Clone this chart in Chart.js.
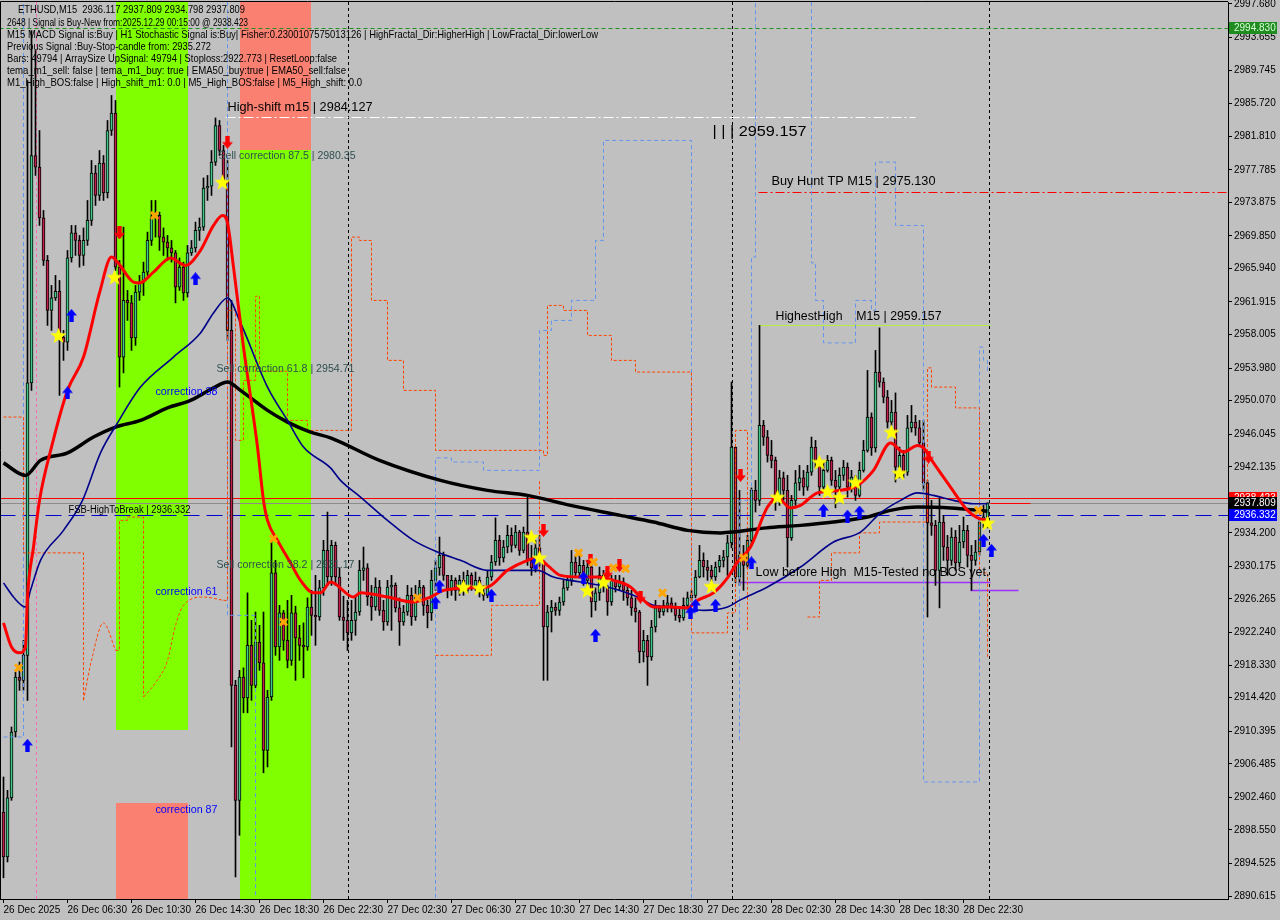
<!DOCTYPE html>
<html>
<head>
<meta charset="utf-8">
<title>ETHUSD,M15</title>
<script src="https://cdn.jsdelivr.net/npm/chart.js"></script>
<style>
  html, body { margin: 0; padding: 0; background: #c0c0c0; }
  #wrap { width: 1280px; height: 920px; }
</style>
</head>
<body>
<div id="wrap"><canvas id="chart" width="1280" height="920"></canvas></div>
<script>
// time axis labels, one every 16 bars (4 hours of M15)
const timeLabels = ['26 Dec 2025', '26 Dec 06:30', '26 Dec 10:30', '26 Dec 14:30', '26 Dec 18:30', '26 Dec 22:30',
  '27 Dec 02:30', '27 Dec 06:30', '27 Dec 10:30', '27 Dec 14:30', '27 Dec 18:30', '27 Dec 22:30',
  '28 Dec 02:30', '28 Dec 14:30', '28 Dec 18:30', '28 Dec 22:30'];
const barsPerLabel = 16;

const priceTicks = [2997.680, 2993.655, 2989.745, 2985.720, 2981.810, 2977.785, 2973.875, 2969.850, 2965.940,
  2961.915, 2958.005, 2953.980, 2950.070, 2946.045, 2942.135, 2938.110, 2934.200, 2930.175, 2926.265, 2922.240,
  2918.330, 2914.420, 2910.395, 2906.485, 2902.460, 2898.550, 2894.525, 2890.615];

// candles (open of each bar = previous close)
const firstOpen = 2900.7;
const closes = [
  2895.3, 2902.4, 2910.3, 2916.9, 2916.5, 2919.5, 2952.2, 2979.5, 2978.1, 2972.0,
  2966.9, 2960.9, 2962.4, 2963.2, 2957.7, 2957.1, 2967.2, 2970.2, 2969.3, 2967.5,
  2969.3, 2971.7, 2977.4, 2974.7, 2978.6, 2975.0, 2982.5, 2984.6, 2966.1, 2955.3,
  2962.1, 2961.8, 2957.6, 2963.1, 2964.3, 2965.5, 2969.3, 2972.1, 2972.3, 2969.7,
  2969.1, 2968.4, 2967.8, 2963.7, 2966.1, 2963.0, 2967.8, 2968.4, 2970.5, 2970.9,
  2975.6, 2975.8, 2978.7, 2983.1, 2980.1, 2976.5, 2958.5, 2915.9, 2902.1, 2916.9,
  2914.4, 2920.7, 2915.9, 2921.1, 2918.6, 2908.1, 2914.5, 2929.4, 2920.5, 2924.6,
  2921.3, 2918.9, 2924.6, 2921.6, 2920.7, 2920.5, 2925.3, 2924.3, 2924.1, 2927.6,
  2932.1, 2928.9, 2932.7, 2928.9, 2924.1, 2923.7, 2922.2, 2923.7, 2924.7, 2929.7,
  2930.0, 2926.5, 2925.3, 2927.7, 2924.9, 2923.5, 2927.7, 2927.9, 2925.2, 2923.5,
  2924.7, 2926.7, 2924.1, 2926.7, 2927.7, 2925.5, 2924.6, 2928.5, 2930.0, 2931.5,
  2929.1, 2927.3, 2928.5, 2927.3, 2928.5, 2927.3, 2929.1, 2927.7, 2928.5, 2927.0,
  2926.7, 2928.9, 2930.7, 2933.3, 2931.2, 2932.5, 2933.9, 2932.7, 2934.3, 2932.1,
  2934.3, 2930.9, 2930.0, 2932.4, 2930.7, 2922.9, 2924.7, 2925.3, 2924.9, 2925.9,
  2927.6, 2928.5, 2930.7, 2929.4, 2930.3, 2928.5, 2930.1, 2925.9, 2927.0, 2929.1,
  2927.7, 2925.9, 2928.5, 2927.7, 2928.3, 2927.3, 2926.4, 2925.2, 2924.7, 2919.9,
  2921.3, 2919.3, 2922.9, 2925.2, 2924.7, 2925.5, 2925.8, 2925.2, 2924.3, 2924.0,
  2925.5, 2926.4, 2926.7, 2928.9, 2930.9, 2930.1, 2929.7, 2928.9, 2930.1, 2930.9,
  2931.3, 2933.0, 2944.5, 2928.9, 2931.5, 2930.3, 2933.3, 2939.3, 2938.1, 2947.1,
  2945.7, 2943.5, 2942.9, 2938.1, 2940.8, 2939.3, 2933.6, 2938.1, 2940.2, 2940.8,
  2939.7, 2941.5, 2944.5, 2942.9, 2939.7, 2941.7, 2942.9, 2940.5, 2939.7, 2941.1,
  2942.1, 2939.7, 2940.9, 2938.7, 2941.7, 2944.1, 2948.1, 2944.4, 2953.5, 2952.3,
  2950.5, 2947.5, 2948.7, 2942.1, 2943.5, 2941.5, 2946.8, 2947.5, 2946.8, 2945.0,
  2940.2, 2935.4, 2935.1, 2929.7, 2935.5, 2932.5, 2930.9, 2933.7, 2930.6, 2933.1,
  2934.5, 2931.5, 2930.9, 2931.9, 2935.5, 2936.117, 2937.809];
const highs = [
  2904.9, 2903.3, 2910.9, 2917.5, 2918.7, 2921.3, 2988.5, 2994.5, 2992.1, 2982.5,
  2972.9, 2967.5, 2963.9, 2965.1, 2964.5, 2958.5, 2968.1, 2971.1, 2971.1, 2969.9,
  2970.8, 2974.1, 2978.9, 2978.3, 2980.1, 2979.5, 2983.7, 2986.7, 2986.1, 2966.9,
  2970.9, 2963.3, 2962.7, 2963.9, 2965.1, 2966.7, 2970.3, 2974.1, 2974.1, 2972.7,
  2970.8, 2969.9, 2969.3, 2968.1, 2967.2, 2966.7, 2968.7, 2969.3, 2971.5, 2972.0,
  2976.8, 2977.1, 2980.1, 2984.0, 2983.7, 2980.7, 2978.9, 2962.1, 2916.5, 2917.7,
  2918.0, 2927.0, 2923.7, 2924.7, 2923.1, 2924.7, 2915.3, 2933.3, 2930.9, 2925.5,
  2924.9, 2926.1, 2926.7, 2925.4, 2923.1, 2923.4, 2926.4, 2927.3, 2929.1, 2928.5,
  2933.3, 2936.7, 2933.3, 2933.1, 2930.0, 2926.6, 2926.1, 2926.1, 2926.7, 2930.9,
  2932.5, 2930.5, 2927.9, 2928.8, 2928.5, 2926.1, 2928.5, 2929.1, 2928.2, 2926.4,
  2925.5, 2927.9, 2927.6, 2927.9, 2928.5, 2927.9, 2926.1, 2929.7, 2930.9, 2933.7,
  2931.9, 2929.1, 2929.1, 2928.8, 2929.1, 2929.5, 2929.7, 2929.4, 2929.5, 2928.9,
  2927.9, 2929.7, 2931.5, 2936.0, 2933.9, 2933.3, 2935.1, 2934.8, 2935.1, 2934.5,
  2934.9, 2938.5, 2932.7, 2933.3, 2933.9, 2930.9, 2925.5, 2926.1, 2925.8, 2926.5,
  2928.5, 2929.1, 2932.1, 2931.5, 2931.9, 2930.9, 2930.9, 2930.3, 2927.6, 2930.1,
  2929.7, 2927.9, 2929.1, 2929.1, 2929.1, 2928.8, 2927.9, 2927.3, 2926.4, 2924.9,
  2922.5, 2921.9, 2923.7, 2926.1, 2925.5, 2926.1, 2926.7, 2926.4, 2925.8, 2925.2,
  2926.4, 2927.1, 2927.3, 2929.7, 2932.7, 2931.8, 2930.9, 2930.3, 2930.7, 2931.5,
  2932.1, 2933.9, 2952.3, 2944.5, 2939.3, 2932.7, 2933.9, 2939.6, 2940.5, 2959.1,
  2947.7, 2946.5, 2945.3, 2943.3, 2941.7, 2941.5, 2941.1, 2938.7, 2941.7, 2942.3,
  2941.7, 2942.3, 2945.7, 2945.3, 2943.2, 2942.7, 2943.5, 2943.3, 2941.7, 2942.0,
  2942.9, 2942.6, 2941.7, 2941.1, 2942.7, 2945.3, 2953.7, 2948.6, 2956.1, 2958.8,
  2952.8, 2951.3, 2950.1, 2951.0, 2944.5, 2944.1, 2948.3, 2949.5, 2948.3, 2947.7,
  2947.7, 2940.5, 2938.1, 2935.7, 2938.4, 2936.3, 2933.9, 2934.8, 2934.5, 2935.1,
  2936.1, 2935.1, 2932.7, 2933.3, 2936.0, 2937.5, 2937.809];
const lows = [
  2892.8, 2894.7, 2902.1, 2909.7, 2915.3, 2915.3, 2914.1, 2951.3, 2977.1, 2971.1,
  2966.3, 2959.1, 2958.5, 2962.1, 2950.7, 2954.9, 2956.1, 2966.7, 2967.5, 2966.1,
  2966.3, 2968.7, 2971.1, 2973.5, 2974.1, 2974.1, 2974.4, 2981.9, 2965.7, 2951.7,
  2953.4, 2959.7, 2956.1, 2956.7, 2962.1, 2962.7, 2965.1, 2968.7, 2969.7, 2968.1,
  2967.5, 2966.9, 2966.7, 2961.8, 2963.3, 2962.1, 2962.5, 2967.5, 2967.9, 2969.3,
  2970.5, 2974.1, 2974.7, 2978.3, 2979.5, 2975.9, 2957.3, 2908.5, 2892.9, 2897.9,
  2912.6, 2912.6, 2914.1, 2915.6, 2917.7, 2905.4, 2906.1, 2914.1, 2919.5, 2918.9,
  2920.1, 2918.0, 2918.3, 2916.5, 2918.9, 2916.8, 2920.1, 2921.9, 2920.7, 2923.7,
  2926.7, 2927.9, 2927.9, 2927.9, 2923.7, 2921.3, 2920.1, 2921.3, 2921.9, 2924.3,
  2928.5, 2925.5, 2923.7, 2924.9, 2924.3, 2922.5, 2923.1, 2922.5, 2924.7, 2920.7,
  2923.1, 2924.3, 2923.1, 2923.7, 2926.1, 2924.3, 2922.8, 2923.7, 2927.3, 2929.1,
  2928.5, 2926.4, 2926.7, 2926.1, 2926.7, 2926.7, 2927.0, 2927.3, 2927.3, 2926.5,
  2926.1, 2926.4, 2928.5, 2930.3, 2930.3, 2930.7, 2931.8, 2931.9, 2932.4, 2931.5,
  2931.8, 2930.3, 2929.1, 2929.5, 2930.1, 2916.5, 2916.5, 2922.3, 2924.3, 2924.3,
  2925.5, 2927.3, 2927.9, 2928.8, 2928.8, 2927.9, 2927.9, 2924.1, 2924.9, 2926.1,
  2927.1, 2924.3, 2925.5, 2927.1, 2927.3, 2926.1, 2925.5, 2924.3, 2923.5, 2918.6,
  2918.7, 2915.9, 2918.9, 2922.3, 2924.0, 2924.3, 2924.7, 2924.7, 2923.7, 2923.5,
  2923.7, 2925.2, 2925.9, 2926.4, 2928.8, 2928.9, 2928.5, 2927.3, 2928.5, 2929.5,
  2930.1, 2929.1, 2932.4, 2928.2, 2927.9, 2927.3, 2930.0, 2932.7, 2936.7, 2937.5,
  2944.7, 2942.7, 2942.0, 2936.9, 2937.5, 2938.1, 2930.1, 2933.3, 2937.5, 2939.3,
  2938.7, 2939.3, 2941.1, 2942.0, 2938.7, 2939.1, 2941.5, 2939.9, 2937.2, 2938.7,
  2940.5, 2938.5, 2939.1, 2938.1, 2938.5, 2941.5, 2943.9, 2943.5, 2943.9, 2951.7,
  2949.8, 2946.8, 2947.1, 2940.3, 2940.8, 2940.8, 2941.1, 2946.3, 2945.9, 2944.7,
  2939.3, 2924.1, 2933.9, 2927.9, 2925.2, 2930.9, 2929.1, 2930.3, 2929.7, 2930.1,
  2932.4, 2930.1, 2927.3, 2930.3, 2931.5, 2934.8, 2934.798];

// moving averages (bar index, value)
const redBars = [0, 2, 4, 5.5, 6, 7.5, 9, 12, 16, 20, 24, 27, 28.5, 32.5, 34, 37.5, 41.75, 45.5, 49.25, 52.5,
  54.75, 56, 57.5, 60, 63.5, 65, 66, 68.5, 71.75, 74.25, 77.5, 79.25, 81.75, 87.5, 89.25, 96, 102.5, 106.75, 110, 116.75,
  121, 126, 131, 133.5, 136, 139.25, 144.25, 148.5, 152.5, 156.75, 159.25, 162.5, 166.75, 171, 173.5, 177.5, 181, 183.5, 186.75, 191,
  193.5, 196.75, 199.25, 203.5, 209.25, 213.5, 217.5, 221.75, 225, 228.5, 230, 232.5, 236.75, 241, 243.5, 246];
const redVals = [2923.4, 2920.5, 2919.8, 2920.5, 2926.5, 2932.5, 2938.1, 2944.5, 2951.3, 2955.3,
  2963.0, 2967.3, 2966.7, 2964.3, 2964.2, 2965.5, 2967.2, 2966.3, 2968.1, 2971.1,
  2972.3, 2971.4, 2966.1, 2956.5, 2944.5, 2938.1, 2935.7, 2933.3, 2930.6, 2928.5,
  2927.0, 2927.0, 2928.3, 2926.5, 2927.0, 2926.5, 2925.9, 2926.5, 2927.3, 2927.6,
  2927.7, 2929.7, 2930.9, 2931.2, 2930.3, 2929.1, 2928.9, 2928.9, 2928.5, 2927.7,
  2926.5, 2925.3, 2925.3, 2925.2, 2926.1, 2927.0, 2928.8, 2930.7, 2932.5, 2937.3,
  2938.4, 2937.2, 2937.5, 2939.0, 2939.3, 2939.9, 2941.7, 2945.0, 2943.9, 2944.7,
  2944.4, 2942.6, 2939.7, 2936.9, 2936.0, 2935.7];
const navyBars = [0, 2.5, 5.5, 6.75, 9.25, 15, 19.75, 24.25, 28.5, 34.25, 42.5, 49.25, 52.5, 56, 59.25, 66, 71, 75, 81.75, 84.25,
  89.25, 96, 102.5, 108.5, 114.25, 121, 133.5, 137.5, 144.25, 151, 158.5, 162.5, 169.25, 175, 181, 184, 191, 199.25, 207.5, 214.25,
  219.25, 224.25, 228.5, 232.5, 237.5, 242.5, 246];
const navyVals = [2928.2, 2926.5, 2925.3, 2927.3, 2930.9, 2934.5, 2938.1, 2943.8, 2947.4, 2951.7,
  2955.3, 2958.2, 2960.6, 2962.4, 2959.4, 2951.7, 2947.7, 2944.5, 2942.0, 2940.5,
  2938.5, 2935.7, 2933.3, 2931.9, 2930.9, 2929.7, 2929.7, 2928.9, 2928.3, 2927.7,
  2926.5, 2925.5, 2925.2, 2924.9, 2925.3, 2926.1, 2927.7, 2930.1, 2933.1, 2934.3,
  2936.6, 2938.1, 2939.0, 2938.7, 2938.1, 2937.7, 2937.7];
const blackBars = [0, 5.5, 9.25, 16, 22.5, 28, 34.25, 41, 46.75, 52.5, 56, 59.25, 66, 71, 76.75, 81.75, 94, 109.25, 121, 131,
  141.75, 154.25, 162.5, 171, 179.25, 190.75, 199.25, 207.5, 216, 221.75, 228.5, 236.75, 246];
const blackVals = [2942.6, 2941.1, 2942.9, 2943.8, 2945.7, 2946.9, 2947.7, 2949.2, 2950.1, 2951.6,
  2952.3, 2951.3, 2948.9, 2947.5, 2946.3, 2945.6, 2942.9, 2940.5, 2939.3, 2938.7,
  2937.5, 2936.3, 2935.5, 2934.5, 2934.2, 2934.8, 2935.1, 2935.5, 2936.1, 2936.9,
  2937.3, 2937.2, 2936.8];

// dashed envelope lines, stepped parts (null = gap)
const orangeBars = [0, 5, 5, 20, 20, 20, 28, 29, 31, 34, 35, 35, 55, 56, 58, 60, 63, 64, 66, 71,
  76, 86, 87, 89, 92, 96, 100, 108, 135, 136, 140, 146, 152, 158, 172, 172, 178, 181, 183, 186,
  186, 190, 201, 204, 207, 214, 219, 231, 231, 232, 237, 238, 244, 244, 246];
const orangeVals = [2948.1, 2948.1, 2931.8, 2931.8, 2914.1, null, 2920.1, 2935.7, 2936.1, 2936.1,
  2914.5, null, 2926.1, 2960.9, 2945.3, 2952.5, 2962.6, 2953.6, 2953.6, 2947.7,
  2946.5, 2946.5, 2969.7, 2969.3, 2962.1, 2954.9, 2951.3, 2944.1, 2943.5, 2961.5,
  2960.9, 2957.9, 2954.9, 2953.5, 2953.1, 2922.2, 2922.2, 2924.6, 2946.5, 2946.5,
  2922.5, null, 2924.1, 2928.5, 2931.8, 2934.2, 2935.5, 2935.5, 2954.0, 2951.7,
  2951.7, 2949.2, 2949.2, 2929.4, 2919.3];
// dashed envelope lines, curved parts
const orangeCurveBars = [20, 22, 25, 28, 30, 35, 38, 41, 43, 45, 50, 55];
const orangeCurveVals = [2914.1, 2918.9, 2923.4, 2920.1, null, 2914.5, 2916.2, 2918.9, 2923.1, 2925.5, 2926.5, 2926.1];
const orange2Bars = [108, 116, 122, 134, 134];
const orange2Vals = [2919.5, 2919.5, 2925.5, 2925.5, 2940.5];
const blueBars = [0, 5, 5, 20, 56, 56, 63, 63, 80, 108, 108, 112, 120, 134, 134, 137, 142, 148, 150, 172,
  172, 178, 184, 184, 187, 188, 188, 195, 202, 202, 203, 205, 213, 213, 217, 218, 222, 223, 230, 230,
  243, 244, 245, 246];
const blueVals = [2909.7, 2909.7, 2997.9, null, 2997.9, 2924.3, 2924.3, 2890.4, null, 2890.4,
  2943.2, 2942.7, 2941.7, 2941.7, 2958.5, 2959.7, 2962.1, 2969.3, 2981.3, 2981.3,
  2890.4, null, 2909.3, 2938.1, 2967.3, 2971.4, 2997.9, null, 2997.9, 2966.6,
  2962.1, 2957.0, 2957.0, 2962.1, 2960.9, 2978.7, 2978.7, 2971.1, 2971.1, 2904.3,
  2904.3, 2956.5, 2954.9, 2953.4];

// signal markers
const starBars = [13.75, 27.75, 54.75, 115, 119, 132, 134, 146, 150, 177, 193.5, 204, 206, 209, 213, 222, 224, 246];
const starVals = [2957.9, 2964.9, 2976.3, 2927.7, 2927.6, 2933.7, 2931.2, 2927.3, 2928.3, 2927.8, 2938.5, 2942.7, 2939.2, 2938.5, 2940.3, 2946.3, 2941.4, 2935.4];
const crossBars = [3.75, 37.75, 67.5, 70, 103.5, 143.75, 147.5, 152.5, 155.5, 164.75, 185, 243.75];
const crossVals = [2918.0, 2972.3, 2933.5, 2923.5, 2926.4, 2931.8, 2930.7, 2930.0, 2929.9, 2927.0, 2931.2, 2936.9];
const upBars = [6, 16, 17, 48, 108, 109, 122, 133, 145, 148, 171.75, 173, 178, 187, 205, 211, 214, 245, 247];
const upVals = [2908.7, 2951.0, 2960.3, 2964.7, 2925.8, 2927.8, 2926.7, 2930.6, 2928.8, 2921.9, 2924.6, 2925.5, 2925.5, 2930.6, 2936.9, 2936.2, 2936.7, 2933.3, 2932.1];
const downBars = [29, 56, 135, 146.75, 151, 154, 159.25, 184.25, 231.25];
const downVals = [2970.2, 2981.1, 2934.5, 2930.9, 2929.4, 2930.3, 2926.5, 2941.1, 2943.3];

// correction zones
const zoneFrom = [28, 28, 59, 59];
const zoneTo = [46, 46, 76.75, 76.75];
const zoneTop = [2997.92, 2901.8, 2997.92, 2980.1];
const zoneBottom = [2910.5, 2890.25, 2980.1, 2890.25];
const zoneKind = ['buy', 'sell', 'sell', 'buy'];

// horizontal levels
const levelPrice = [2994.830, 2984.127, 2975.130, 2959.157, 2938.423, 2937.809, 2936.332, 2928.3, 2927.3, 2937.8];
const levelFrom = [-1, 55.5, 188.75, 188.75, -1, -1, -1, 184.25, 241.75, 246.75];
const levelTo = [307, 228, 307, 246.75, 307, 307, 307, 246.75, 253.75, 256.75];
const levelKind = ['signal', 'shift', 'tp', 'hh', 'red', 'bid', 'fsb', 'low', 'low', 'red'];

const vlineBars = [86, 182, 246.25];
const pinkBar = 8;

const noteText = ['FSB-HighToBreak | 2936.332', 'High-shift m15 | 2984.127', '| | | 2959.157', 'Buy Hunt TP M15 | 2975.130',
  'HighestHigh    M15 | 2959.157', 'Low before High  M15-Tested no BOS yet.', 'Sell correction 87.5 | 2980.35',
  'Sell correction 61.8 | 2954.71', 'Sell correction 38.2 | 2931.17', 'correction 38', 'correction 61', 'correction 87'];
const noteBar = [16.25, 56, 177.25, 192, 193, 188, 53.75, 53.25, 53.25, 38, 38, 38];
const notePrice = [2936.9, 2985.2, 2982.3, 2976.3, 2960.2, 2929.4, 2979.4, 2953.9, 2930.3, 2951.1, 2927.1, 2900.9];

const headerLines = ['ETHUSD,M15  2936.117 2937.809 2934.798 2937.809',
  '2648 | Signal is Buy-New from:2025.12.29 00:15:00 @ 2938.423',
  'M15 MACD Signal is:Buy | H1 Stochastic Signal is:Buy| Fisher:0.2300107575013126 | HighFractal_Dir:HigherHigh | LowFractal_Dir:lowerLow',
  'Previous Signal :Buy-Stop-candle from: 2935.272',
  'Bars: 49794 | ArraySize UpSignal: 49794 | Stoploss:2922.773 | ResetLoop:false',
  'tema_m1_sell: false | tema_m1_buy: true | EMA50_buy:true | EMA50_sell:false',
  'M1_High_BOS:false | High_shift_m1: 0.0 | M5_High_BOS:false | M5_High_shift: 0.0'];

const tagPrices = [2994.830, 2938.423, 2937.809, 2936.332];

// ---- styles ----
const FONT = '"Liberation Sans", Arial, sans-serif';
const BULL = '#40c888', BEAR = '#c0204a';
const zoneColor = { buy: '#7fff00', sell: '#fa8072' };
const levelStyle = {
  signal: { color: '#1f8f1f', dash: [4, 3], width: 1 },
  shift: { color: '#ffffff', dash: [10, 3, 2, 3], width: 1 },
  tp: { color: '#ff0000', dash: [9, 3, 2, 3], width: 1 },
  hh: { color: '#b4f03c', dash: [], width: 1 },
  red: { color: '#ff0000', dash: [], width: 1 },
  bid: { color: '#8c8c8c', dash: [], width: 1 },
  fsb: { color: '#0000cd', dash: [16, 7], width: 1 },
  low: { color: '#9b30ff', dash: [], width: 1.5 }
};
const noteStyle = [
  [10, '#000', 122], [12.5, '#000', 145], [15, '#000', 94], [12, '#000', 164], [12, '#000', 166], [12, '#000', 234],
  [10.5, '#2f4f4f', 137], [10.5, '#2f4f4f', 138], [10.5, '#2f4f4f', 138], [10.5, '#0000ff', 62], [10.5, '#0000ff', 62], [10.5, '#0000ff', 62]
];
const headerPos = [[18, 10, 227], [7, 23, 241], [7, 35, 591], [7, 47, 204], [7, 59, 330], [7, 71, 339], [7, 83, 355]];
const tagStyle = [['#1e8c1e', '#d8ffd8'], ['#ff0000', '#ffffff'], ['#000000', '#ffffff'], ['#0000ff', '#ffffff']];

function makeStar(size, color) {
  const c = document.createElement('canvas');
  c.width = c.height = size;
  const g = c.getContext('2d');
  g.beginPath();
  for (let k = 0; k < 10; k++) {
    const r = k % 2 ? size * 0.21 : size * 0.5;
    const a = -Math.PI / 2 + k * Math.PI / 5;
    g.lineTo(size / 2 + r * Math.cos(a), size / 2 + r * Math.sin(a) + size * 0.04);
  }
  g.closePath();
  g.fillStyle = color;
  g.fill();
  return c;
}

function makeArrow(w, h, color, up) {
  const c = document.createElement('canvas');
  c.width = w; c.height = h;
  const g = c.getContext('2d');
  if (!up) { g.translate(0, h); g.scale(1, -1); }
  g.beginPath();
  g.moveTo(w / 2, 0); g.lineTo(w, h * 0.5); g.lineTo(w * 0.7, h * 0.5); g.lineTo(w * 0.7, h);
  g.lineTo(w * 0.3, h); g.lineTo(w * 0.3, h * 0.5); g.lineTo(0, h * 0.5);
  g.closePath();
  g.fillStyle = color;
  g.fill();
  return c;
}

function fitText(ctx, text, x, y, w) {
  const nat = ctx.measureText(text).width;
  ctx.save();
  ctx.translate(x, y);
  if (w && nat) ctx.scale(w / nat, 1);
  ctx.fillText(text, 0, 0);
  ctx.restore();
}

const pts = (xs, ys) => xs.map((v, k) => ({ x: v, y: ys[k] }));
const opens = closes.map((c, i) => (i === 0 ? firstOpen : closes[i - 1]));
const bodies = closes.map((c, i) => ({ x: i, y: [opens[i], c] }));
const wicks = closes.map((c, i) => ({ x: i, y: [lows[i], highs[i]] }));
const bodyColors = closes.map((c, i) => (c >= opens[i] ? BULL : BEAR));

const overlay = {
  id: 'overlay',
  beforeDatasetsDraw(chart) {
    const { ctx, chartArea: a, scales: { x, y } } = chart;
    ctx.save();
    ctx.beginPath();
    ctx.rect(a.left, a.top, a.right - a.left, a.bottom - a.top);
    ctx.clip();
    zoneFrom.forEach((f, k) => {
      const x0 = x.getPixelForValue(f), x1 = x.getPixelForValue(zoneTo[k]);
      const y0 = y.getPixelForValue(zoneTop[k]), y1 = y.getPixelForValue(zoneBottom[k]);
      ctx.fillStyle = zoneColor[zoneKind[k]];
      ctx.fillRect(Math.round(x0), Math.round(y0), Math.round(x1 - x0), Math.round(y1 - y0));
    });
    // vertical dotted separators
    ctx.lineWidth = 1;
    ctx.strokeStyle = '#000';
    ctx.setLineDash([3, 3]);
    vlineBars.forEach(b => {
      const px = Math.round(x.getPixelForValue(b)) + 0.5;
      ctx.beginPath(); ctx.moveTo(px, a.top); ctx.lineTo(px, a.bottom); ctx.stroke();
    });
    ctx.strokeStyle = '#ff69b4';
    const pp = Math.round(x.getPixelForValue(pinkBar)) + 0.5;
    ctx.beginPath(); ctx.moveTo(pp, a.top); ctx.lineTo(pp, a.bottom); ctx.stroke();
    // horizontal levels
    levelPrice.forEach((p, k) => {
      const st = levelStyle[levelKind[k]];
      const py = Math.round(y.getPixelForValue(p)) + 0.5;
      ctx.strokeStyle = st.color;
      ctx.lineWidth = st.width;
      ctx.setLineDash(st.dash);
      ctx.beginPath();
      ctx.moveTo(x.getPixelForValue(levelFrom[k]), py);
      ctx.lineTo(x.getPixelForValue(levelTo[k]), py);
      ctx.stroke();
    });
    ctx.restore();
  },
  afterDatasetsDraw(chart) {
    const { ctx, scales: { x, y } } = chart;
    ctx.save();
    ctx.textBaseline = 'middle';
    noteText.forEach((t, k) => {
      const [size, color, w] = noteStyle[k];
      ctx.font = size + 'px ' + FONT;
      ctx.fillStyle = color;
      fitText(ctx, t, x.getPixelForValue(noteBar[k]), y.getPixelForValue(notePrice[k]), w);
    });
    ctx.restore();
  },
  afterDraw(chart) {
    const { ctx, chartArea: a, scales: { y } } = chart;
    ctx.save();
    ctx.textBaseline = 'middle';
    ctx.font = '11px ' + FONT;
    ctx.fillStyle = '#000';
    headerLines.forEach((t, k) => {
      const [hx, hy, hw] = headerPos[k];
      fitText(ctx, t, hx, hy, hw);
    });
    ctx.font = '10px ' + FONT;
    tagPrices.forEach((p, k) => {
      const py = Math.round(y.getPixelForValue(p));
      ctx.fillStyle = tagStyle[k][0];
      ctx.fillRect(a.right + 1, py - 6, 48, 12);
      ctx.fillStyle = tagStyle[k][1];
      ctx.fillText(p.toFixed(3), a.right + 6, py + 0.5);
    });
    ctx.strokeStyle = '#000';
    ctx.lineWidth = 1;
    ctx.setLineDash([]);
    ctx.beginPath();
    ctx.moveTo(a.left + 0.5, a.bottom);
    ctx.lineTo(a.left + 0.5, a.top - 0.5);
    ctx.lineTo(a.right, a.top - 0.5);
    ctx.stroke();
    ctx.restore();
  }
};

const starImg = makeStar(17, '#ffff00');
const upImg = makeArrow(11, 13, '#0000ff', true);
const downImg = makeArrow(11, 13, '#ff0000', false);

new Chart(document.getElementById('chart'), {
  type: 'bar',
  data: {
    datasets: [
      { type: 'line', data: pts(starBars, starVals), showLine: false, pointStyle: starImg, pointRadius: 6, order: -3 },
      { type: 'line', data: pts(crossBars, crossVals), showLine: false, pointStyle: 'crossRot', pointRadius: 5,
        pointBorderWidth: 3, pointBorderColor: '#ffa500', order: -3 },
      { type: 'line', data: pts(upBars, upVals), showLine: false, pointStyle: upImg, pointRadius: 6, order: -3 },
      { type: 'line', data: pts(downBars, downVals), showLine: false, pointStyle: downImg, pointRadius: 6, order: -3 },
      { type: 'line', data: pts(redBars, redVals), borderColor: '#ff0000', borderWidth: 3, pointRadius: 0,
        cubicInterpolationMode: 'monotone', order: -2 },
      { type: 'line', data: pts(navyBars, navyVals), borderColor: '#00008b', borderWidth: 1.6, pointRadius: 0,
        cubicInterpolationMode: 'monotone', order: -1 },
      { type: 'line', data: pts(blackBars, blackVals), borderColor: '#000000', borderWidth: 3.5, pointRadius: 0,
        cubicInterpolationMode: 'monotone', order: -1 },
      { type: 'line', data: pts(orangeBars, orangeVals), borderColor: '#ff4500', borderWidth: 1, borderDash: [3, 2],
        pointRadius: 0, spanGaps: false, stepped: 'before', order: 0 },
      { type: 'line', data: pts(orangeCurveBars, orangeCurveVals), borderColor: '#ff4500', borderWidth: 1, borderDash: [3, 2],
        pointRadius: 0, spanGaps: false, cubicInterpolationMode: 'monotone', order: 0 },
      { type: 'line', data: pts(orange2Bars, orange2Vals), borderColor: '#ff4500', borderWidth: 1, borderDash: [3, 2],
        pointRadius: 0, stepped: 'before', order: 0 },
      { type: 'line', data: pts(blueBars, blueVals), borderColor: '#6495ed', borderWidth: 1, borderDash: [4, 3],
        pointRadius: 0, spanGaps: false, stepped: 'before', order: 0 },
      { type: 'bar', data: bodies, backgroundColor: bodyColors, borderColor: '#000', borderWidth: 1,
        borderSkipped: false, barThickness: 3, grouped: false, order: 1 },
      { type: 'bar', data: wicks, backgroundColor: '#000', borderWidth: 0, barThickness: 1, grouped: false, order: 2 }
    ]
  },
  options: {
    responsive: false,
    animation: false,
    events: [],
    layout: { autoPadding: false, padding: { top: 2, left: 0, right: 0, bottom: 0 } },
    plugins: { legend: { display: false }, tooltip: { enabled: false } },
    scales: {
      x: {
        type: 'linear', min: -0.875, max: 306.125, offset: false,
        afterBuildTicks: s => { s.ticks = timeLabels.map((t, k) => ({ value: k * barsPerLabel })); },
        afterFit: s => { s.height = 21; s.paddingLeft = 0; s.paddingRight = 0; },
        ticks: {
          autoSkip: false, maxRotation: 0, align: 'start', padding: 1, color: '#000',
          font: { family: FONT, size: 10 },
          callback: v => timeLabels[Math.round(v / barsPerLabel)] || ''
        },
        grid: { drawOnChartArea: false, drawTicks: true, tickLength: 4, color: '#000', offset: false },
        border: { display: true, color: '#000' }
      },
      y: {
        position: 'right', min: 2890.255, max: 2997.92, bounds: 'data', beginAtZero: false,
        afterBuildTicks: s => { s.ticks = priceTicks.map(v => ({ value: v })); },
        afterFit: s => { s.width = 52; s.paddingTop = 0; s.paddingBottom = 0; },
        ticks: {
          autoSkip: false, padding: 2, color: '#000', font: { family: FONT, size: 10 },
          callback: v => Number(v).toFixed(3)
        },
        grid: { drawOnChartArea: false, drawTicks: true, tickLength: 4, color: '#000' },
        border: { display: true, color: '#000' }
      }
    }
  },
  plugins: [overlay]
});
</script>
</body>
</html>
